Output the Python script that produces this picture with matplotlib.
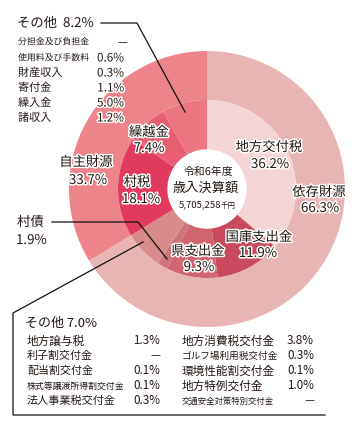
import matplotlib
matplotlib.use("Agg")
import matplotlib.pyplot as plt
import matplotlib.patheffects as pe
from matplotlib.patches import Circle

plt.rcParams['font.family'] = ['Noto Sans CJK JP', 'DejaVu Sans']

# ---- data ----
outer_labels = ['依存財源', '自主財源']
outer_values = [66.3, 33.7]
inner_labels = ['地方交付税', '国庫支出金', '県支出金', '村債', 'その他A', '村税', '繰越金', 'その他B']
inner_values = [36.2, 11.9, 9.3, 1.9, 7.0, 18.1, 7.4, 8.2]

other_b_items = ['分担金及び負担金', '使用料及び手数料', '財産収入', '寄付金', '繰入金', '諸収入']
other_b_values = ['—', '0.6%', '0.3%', '1.1%', '5.0%', '1.2%']

other_a_left = ['地方譲与税', '利子割交付金', '配当割交付金', '株式等譲渡所得割交付金', '法人事業税交付金']
other_a_left_v = ['1.3%', '—', '0.1%', '0.1%', '0.3%']
other_a_right = ['地方消費税交付金', 'ゴルフ場利用税交付金', '環境性能割交付金', '地方特例交付金', '交通安全対策特別交付金']
other_a_right_v = ['3.8%', '0.3%', '0.1%', '1.0%', '—']

outer_colors = ['#e9b4b4', '#ee848b']
inner_colors = ['#f4d5d5', '#c94a5e', '#d0646f', '#cd747a', '#d98a8b', '#e23a5e', '#e85e73', '#eb7681']

W, H = 354, 435
fig = plt.figure(figsize=(W / 100, H / 100), dpi=100)
ax = fig.add_axes([0, 0, 1, 1])

def T(y):
    return H - y

cx, cy = 207, T(190)
R_out, R_in, R_hole = 138, 89, 39

ax.pie(outer_values, radius=R_out, center=(cx, cy), startangle=90, counterclock=False,
       colors=outer_colors, wedgeprops=dict(width=R_out - R_in, edgecolor='none', linewidth=0))
ax.pie(inner_values, radius=R_in, center=(cx, cy), startangle=90, counterclock=False,
       colors=inner_colors, wedgeprops=dict(width=R_in - R_hole, edgecolor='none', linewidth=0))
ax.add_patch(Circle((cx, cy), R_hole, color='white', zorder=3))

ax.set_xlim(0, W)
ax.set_ylim(0, H)
ax.set_aspect('auto')
ax.axis('off')

halo = [pe.withStroke(linewidth=2.2, foreground='white')]
TXT = '#231815'

def lab(x, y, s, size=9.6, ha='center', **kw):
    ax.text(x, T(y), s, fontsize=size, ha=ha, va='center', color=TXT,
            path_effects=halo, zorder=5, **kw)

def pct(v):
    return f'{v:.1f}%'

# ring labels
lab(269, 148, inner_labels[0]); lab(270, 165, pct(inner_values[0]))
lab(319, 193, outer_labels[0]); lab(320, 209, pct(outer_values[0]))
lab(259, 238, inner_labels[1]); lab(258, 254, pct(inner_values[1]))
lab(198, 252, inner_labels[2]); lab(199, 268, pct(inner_values[2]))
lab(137, 183, inner_labels[5]); lab(141, 200, pct(inner_values[5]))
lab(149, 133, inner_labels[6]); lab(149, 149, pct(inner_values[6]))
lab(86, 163, outer_labels[1]); lab(88, 181, pct(outer_values[1]))
lab(17, 223, inner_labels[3], ha='left'); lab(16, 241, pct(inner_values[3]), ha='left')

# center
ax.text(208, T(172), '令和6年度', fontsize=7.8, ha='center', va='center', color=TXT, zorder=5)
ax.text(206, T(188), '歳入決算額', fontsize=9.5, ha='center', va='center', color=TXT, zorder=5)
ax.text(221, T(205), '5,705,258', fontsize=6.9, ha='right', va='center', color=TXT, zorder=5)
ax.text(221, T(206), '千円', fontsize=5.4, ha='left', va='center', color=TXT, zorder=5)

# その他 8.2%
ax.text(17, T(24), f'その他  {pct(inner_values[7])}', fontsize=9.6, ha='left', va='center',
        color=TXT, path_effects=halo, zorder=5)
ax.plot([101, 137, 185], [T(24), T(24), T(113)], color='#111111', lw=0.9, zorder=4)
ys_b = [43, 59, 74, 89, 104, 119]
for name, val, y in zip(other_b_items, other_b_values, ys_b):
    fs = 6.4 if len(name) > 5 else 8.0
    ax.text(18, T(y), name, fontsize=fs, ha='left', va='center', color=TXT, path_effects=halo, zorder=5)
    if val == '—':
        ax.text(122, T(y), val, fontsize=8, ha='center', va='center', color=TXT, zorder=5)
    else:
        ax.text(124, T(y), val, fontsize=8.4, ha='right', va='center', color=TXT, path_effects=halo, zorder=5)

# 村債 leader
ax.plot([52, 138, 167], [T(223), T(223), T(260)], color='#111111', lw=0.9, zorder=4)

# その他 7.0% leader + box
ax.plot([143, 13, 13, 325], [T(243), T(314), T(416), T(416)], color='#111111', lw=0.9, zorder=4)
ax.text(25, T(323), f'その他 {pct(inner_values[4])}', fontsize=9.4, ha='left', va='center', color=TXT, zorder=5)
ys_a = [341, 356, 371, 386, 401]

for name, val, y in zip(other_a_left, other_a_left_v, ys_a):
    n = len(name)
    fs = 8.4 if n <= 5 else (7.9 if n <= 8 else 6.4)
    if name == '法人事業税交付金':
        fs = 8.0
    ax.text(27, T(y), name, fontsize=fs, ha='left', va='center', color=TXT, zorder=5)
    if val == '—':
        ax.text(155, T(y), val, fontsize=8, ha='center', va='center', color=TXT, zorder=5)
    else:
        ax.text(160, T(y), val, fontsize=8.4, ha='right', va='center', color=TXT, zorder=5)

for name, val, y in zip(other_a_right, other_a_right_v, ys_a):
    n = len(name)
    if n <= 8:
        fs = 8.4
    elif n == 10:
        fs = 6.9
    else:
        fs = 6.0
    ax.text(182, T(y), name, fontsize=fs, ha='left', va='center', color=TXT, zorder=5)
    if val == '—':
        ax.text(309, T(y), val, fontsize=8, ha='center', va='center', color=TXT, zorder=5)
    else:
        ax.text(314, T(y), val, fontsize=8.4, ha='right', va='center', color=TXT, zorder=5)

fig.savefig('out.png', dpi=100)
